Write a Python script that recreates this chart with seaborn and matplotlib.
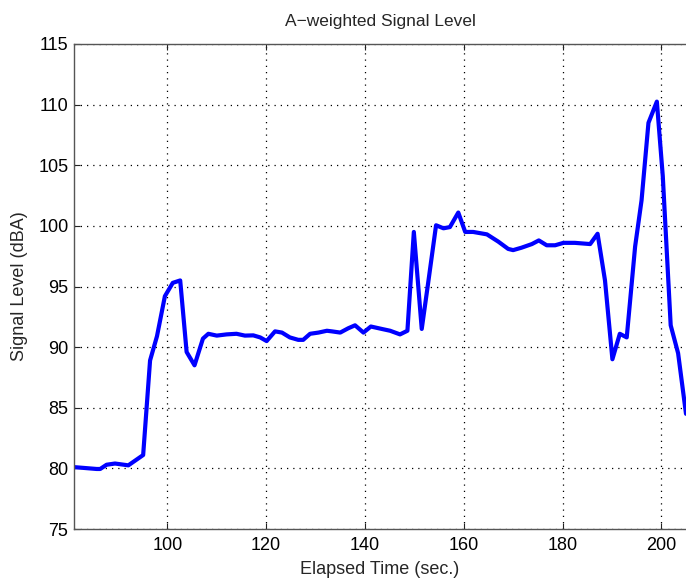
import matplotlib
matplotlib.use("Agg")
import matplotlib.pyplot as plt
import seaborn as sns
import pandas as pd

elapsed_time = [81.2, 85.7, 86.4, 87.7, 89.4, 92.1, 95.1, 96.5, 97.9, 99.5,
                101.1, 102.6, 103.9, 105.5, 107.2, 108.3, 110.0, 112.0, 114.0, 115.7,
                117.4, 118.8, 120.1, 121.8, 123.2, 124.8, 126.5, 127.5, 128.9, 130.6,
                132.3, 133.3, 135.0, 136.6, 138.0, 139.7, 141.2, 143.4, 145.1, 147.1,
                148.6, 149.9, 151.5, 152.8, 154.4, 155.9, 157.2, 158.9, 160.3, 161.9,
                164.7, 167.0, 169.0, 170.0, 171.7, 173.8, 175.2, 176.8, 178.5, 180.2,
                182.5, 185.6, 187.1, 188.6, 190.1, 191.6, 193.0, 194.7, 196.0, 197.4,
                199.1, 200.3, 201.9, 203.4, 205.0]
signal_level = [80.1, 79.95, 79.95, 80.3, 80.4, 80.25, 81.1, 88.9, 90.9, 94.2,
                95.3, 95.5, 89.6, 88.5, 90.7, 91.1, 90.95, 91.05, 91.1, 90.95,
                90.97, 90.8, 90.5, 91.3, 91.2, 90.8, 90.6, 90.6, 91.1, 91.2,
                91.35, 91.3, 91.2, 91.55, 91.8, 91.2, 91.7, 91.5, 91.35, 91.05,
                91.35, 99.5, 91.5, 95.3, 100.05, 99.8, 99.9, 101.1, 99.5, 99.5,
                99.3, 98.7, 98.1, 98.0, 98.2, 98.5, 98.8, 98.4, 98.4, 98.6,
                98.6, 98.5, 99.35, 95.5, 89.0, 91.1, 90.8, 98.3, 102.1, 108.5,
                110.25, 104.1, 91.8, 89.5, 84.5]

x_ticks = [100, 120, 140, 160, 180, 200]
y_ticks = [75, 80, 85, 90, 95, 100, 105, 110, 115]

df = pd.DataFrame({"Elapsed Time (sec.)": elapsed_time,
                   "Signal Level (dBA)": signal_level})

sns.set_style("white")
plt.rcParams["font.family"] = ["Liberation Sans", "DejaVu Sans"]

fig = plt.figure(figsize=(6.86, 5.78), dpi=100)
ax = fig.add_axes([74 / 686, 1 - 529 / 578, 1 - 74 / 686, (529 - 44) / 578])

sns.lineplot(data=df, x="Elapsed Time (sec.)", y="Signal Level (dBA)", ax=ax,
             color="#0000ff", linewidth=3.0, sort=False)

ax.set_xlim(81.1, 205.0)
ax.set_ylim(75, 115)
ax.set_xticks(x_ticks)
ax.set_yticks(y_ticks)
ax.tick_params(direction="in", length=4, width=0.8, colors="#222222",
               labelsize=13, top=True, bottom=True, left=True, right=False)
ax.tick_params(axis="both", labelcolor="black")
ax.tick_params(axis="x", pad=6)
ax.tick_params(axis="y", pad=4)
ax.grid(True, linestyle=(0, (1, 4)), color="black", linewidth=0.9)

for side in ["left", "bottom", "top"]:
    ax.spines[side].set_color("#555555")
    ax.spines[side].set_linewidth(1.0)
ax.spines["right"].set_visible(False)

ax.set_xlabel("Elapsed Time (sec.)", fontsize=13, labelpad=4.5)
ax.set_ylabel("Signal Level (dBA)", fontsize=13, labelpad=7)
ax.set_title("A\u2212weighted Signal Level", fontsize=12.5, pad=13)

fig.savefig("out.png", dpi=100)
